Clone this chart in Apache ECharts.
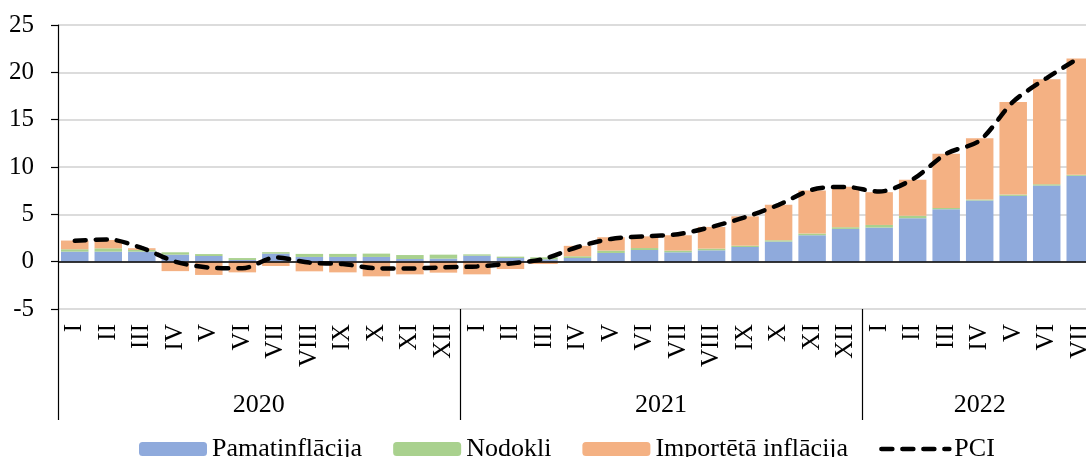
<!DOCTYPE html>
<html>
<head>
<meta charset="utf-8">
<script src="https://cdn.jsdelivr.net/npm/echarts@6/dist/echarts.min.js"></script>
<style>
html,body{margin:0;padding:0;background:#fff;}
#c{width:1086px;height:457px;}
</style>
</head>
<body>
<div id="c"></div>
<script>
const years = ['2020', '2021', '2022'];
const monthsPerYear = [12, 12, 7];
const romanMonths = ['I','II','III','IV','V','VI','VII','VIII','IX','X','XI','XII'];

const pamatinflacija = [
  1.06, 1.06, 1.06, 0.74, 0.60, 0.18, 0.85, 0.50, 0.50, 0.50, 0.28, 0.32,
  0.63, 0.39, 0.25, 0.39, 0.92, 1.23, 0.99, 1.20, 1.55, 2.12, 2.79, 3.46,
  3.60, 4.59, 5.54, 6.46, 6.95, 8.04, 9.07
];
const nodokli = [
  0.25, 0.35, 0.18, 0.25, 0.20, 0.20, 0.15, 0.32, 0.32, 0.35, 0.42, 0.42,
  0.14, 0.14, 0.21, 0.18, 0.25, 0.21, 0.18, 0.18, 0.14, 0.14, 0.18, 0.18,
  0.28, 0.25, 0.14, 0.10, 0.14, 0.14, 0.10
];
const importeta = [
  0.92, 0.88, 0.18, -1.00, -1.40, -1.13, -0.46, -1.02, -1.13, -1.55, -1.34, -1.16,
  -1.34, -0.78, -0.25, 1.10, 1.41, 1.23, 1.62, 2.29, 3.10, 3.74, 4.55, 4.27,
  3.46, 3.81, 5.71, 6.49, 9.77, 11.08, 12.30
];
const pci = [
  2.20, 2.35, 1.45, 0.00, -0.62, -0.70, 0.45, -0.10, -0.25, -0.70, -0.72, -0.60,
  -0.50, -0.20, 0.30, 1.55, 2.40, 2.68, 2.90, 3.67, 4.70, 6.00, 7.60, 7.90,
  7.40, 8.70, 11.40, 12.80, 16.90, 19.40, 21.60
];
const yTicks = { min: -5, max: 25, interval: 5 };

// build category lists from the arrays above
const categories = [];
const monthOfIndex = [];
years.forEach((y, yi) => {
  for (let m = 0; m < monthsPerYear[yi]; m++) {
    categories.push(romanMonths[m]);
    monthOfIndex.push(m);
  }
});
const yearLabelAt = {};
let start = 0;
years.forEach((y, yi) => {
  const n = monthsPerYear[yi];
  yearLabelAt[start + Math.floor(n / 2)] = { text: y, even: n % 2 === 0 };
  start += n;
});

const FONT = "'Liberation Serif', 'Times New Roman', serif";
const DASH = { color: '#000', width: 4.5, type: [11, 10], cap: 'round' };
const chart = echarts.init(document.getElementById('c'), null, { renderer: 'canvas' });

chart.setOption({
  animation: false,
  textStyle: { fontFamily: FONT },
  grid: { left: 58, top: 25, right: -11, bottom: 148, containLabel: false, outerBoundsMode: 'none' },
  legend: {
    left: 134, top: 431,
    itemWidth: 68, itemHeight: 14, itemGap: 31,
    textStyle: { fontFamily: FONT, fontSize: 26, color: '#000' },
    data: [
      'Pamatinflācija', 'Nodokļi', 'Importētā inflācija',
      { name: 'PCI', itemStyle: { opacity: 0 }, lineStyle: DASH }
    ]
  },
  xAxis: [
    {
      type: 'category',
      data: categories,
      position: 'bottom',
      axisLine: { show: false },
      axisTick: { show: false },
      axisLabel: {
        interval: 0, rotate: 90, margin: 15, hideOverlap: false,
        fontFamily: FONT, fontSize: 25, color: '#000'
      }
    },
    {
      type: 'category',
      data: categories,
      position: 'bottom',
      axisLine: { show: false },
      axisTick: {
        show: true, inside: false, length: 111,
        interval: (i) => monthOfIndex[i] === 0,
        lineStyle: { color: '#000', width: 1.2 }
      },
      axisLabel: {
        interval: 0, margin: 83,
        fontFamily: FONT, fontSize: 26, color: '#000',
        formatter: (v, i) => {
          const l = yearLabelAt[i];
          if (!l) return '';
          return l.even ? '{e|' + l.text + '}' : '{o|' + l.text + '}';
        },
        rich: {
          e: { fontFamily: FONT, fontSize: 26, color: '#000', padding: [0, 34, 0, 0] },
          o: { fontFamily: FONT, fontSize: 26, color: '#000' }
        }
      }
    }
  ],
  yAxis: {
    type: 'value',
    min: yTicks.min, max: yTicks.max, interval: yTicks.interval,
    axisLine: { show: true, lineStyle: { color: '#000', width: 1.2 } },
    axisTick: { show: true, inside: false, length: 7, lineStyle: { color: '#000', width: 1.2 } },
    axisLabel: { margin: 24, fontFamily: FONT, fontSize: 25, color: '#000' },
    splitLine: { show: true, lineStyle: { color: '#d0d0d0', width: 1.5 } }
  },
  series: [
    {
      name: 'Pamatinflācija', type: 'bar', stack: 'a',
      barCategoryGap: '18%',
      itemStyle: { color: '#8faadc' },
      data: pamatinflacija,
      markLine: {
        silent: true, symbol: 'none',
        label: { show: false },
        lineStyle: { color: '#000', width: 1.5, type: 'solid' },
        data: [{ yAxis: 0 }]
      }
    },
    {
      name: 'Nodokļi', type: 'bar', stack: 'a',
      itemStyle: { color: '#a9d18e' },
      data: nodokli
    },
    {
      name: 'Importētā inflācija', type: 'bar', stack: 'a',
      itemStyle: { color: '#f4b183' },
      data: importeta
    },
    {
      name: 'PCI', type: 'line',
      data: pci, smooth: 0.3,
      symbol: 'none', showSymbol: false, z: 10,
      lineStyle: DASH,
      itemStyle: { color: '#000' }
    }
  ]
});
</script>
</body>
</html>
